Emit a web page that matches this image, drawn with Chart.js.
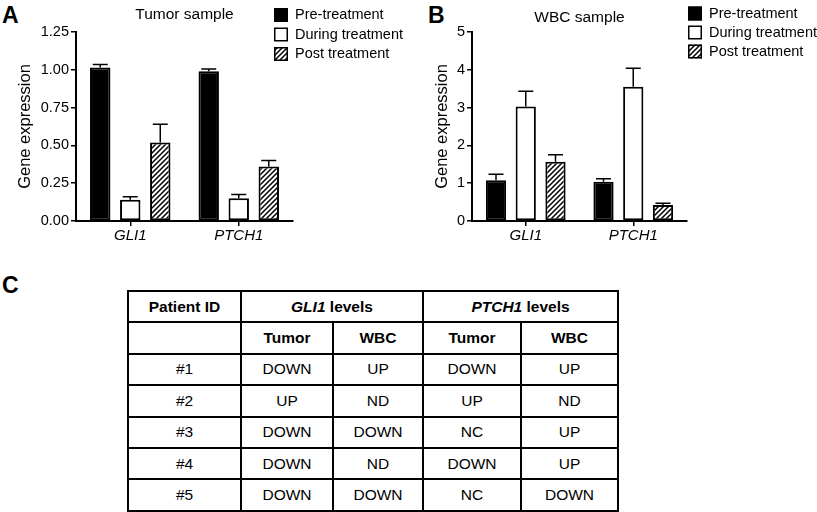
<!DOCTYPE html>
<html>
<head>
<meta charset="utf-8">
<script src="https://cdn.jsdelivr.net/npm/chart.js@4.4.1/dist/chart.umd.min.js"></script>
<style>
  html, body { margin: 0; padding: 0; background: #fff; }
  body {
    width: 817px; height: 512px; position: relative; overflow: hidden;
    font-family: "Liberation Sans", Arial, sans-serif; color: #000;
  }
  canvas { position: absolute; top: 0; }
  .letter { position: absolute; font-weight: bold; font-size: 23px; line-height: 1; }
  #tbl {
    position: absolute; left: 127px; top: 290px;
    border-collapse: collapse; font-size: 15.5px; table-layout: fixed;
  }
  #tbl td { border: 2px solid #000; text-align: center; padding: 0; }
  #tbl tr { height: 31.4px; }
  #tbl .b { font-weight: bold; }
</style>
</head>
<body>
<div class="letter" style="left:2px; top:4px">A</div>
<div class="letter" style="left:428px; top:4px">B</div>
<div class="letter" style="left:2px; top:274px">C</div>
<canvas id="tumorChart" width="410" height="250" style="left:0"></canvas>
<canvas id="wbcChart" width="412" height="250" style="left:405px"></canvas>
<table id="tbl">
  <colgroup>
    <col style="width:113px"><col style="width:92px"><col style="width:90px"><col style="width:98px"><col style="width:97px">
  </colgroup>
  <tbody id="tblBody"></tbody>
</table>
<script>
// ---- chart data ----
const CATEGORIES = ['GLI1', 'PTCH1'];
const SERIES = ['Pre-treatment', 'During treatment', 'Post treatment'];

const TUMOR_PRE = [1.015, 0.99];
const TUMOR_PRE_ERR = [0.02, 0.015];
const TUMOR_DURING = [0.14, 0.15];
const TUMOR_DURING_ERR = [0.02, 0.025];
const TUMOR_POST = [0.52, 0.36];
const TUMOR_POST_ERR = [0.12, 0.04];
const TUMOR_Y_TICKS = [0, 0.25, 0.5, 0.75, 1, 1.25];

const WBC_PRE = [1.08, 1.04];
const WBC_PRE_ERR = [0.16, 0.08];
const WBC_DURING = [3.03, 3.55];
const WBC_DURING_ERR = [0.40, 0.49];
const WBC_POST = [1.57, 0.42];
const WBC_POST_ERR = [0.18, 0.05];
const WBC_Y_TICKS = [0, 1, 2, 3, 4, 5];

// ---- table data ----
const TABLE_SUB = ['Tumor', 'WBC', 'Tumor', 'WBC'];
const PATIENTS = ['#1', '#2', '#3', '#4', '#5'];
const GLI1_TUMOR = ['DOWN', 'UP', 'DOWN', 'DOWN', 'DOWN'];
const GLI1_WBC = ['UP', 'ND', 'DOWN', 'ND', 'DOWN'];
const PTCH1_TUMOR = ['DOWN', 'UP', 'NC', 'DOWN', 'NC'];
const PTCH1_WBC = ['UP', 'ND', 'UP', 'UP', 'DOWN'];

const FONT = '"Liberation Sans", Arial, sans-serif';
Chart.defaults.font.family = FONT;
Chart.defaults.color = '#000';

function hatch() {
  const c = document.createElement('canvas');
  c.width = 5; c.height = 5;
  const g = c.getContext('2d');
  g.fillStyle = '#fff';
  g.fillRect(0, 0, 5, 5);
  g.strokeStyle = '#000';
  g.lineWidth = 1.5;
  g.beginPath();
  g.moveTo(-1, 6); g.lineTo(6, -1);
  g.moveTo(-1, 1); g.lineTo(1, -1);
  g.moveTo(4, 6); g.lineTo(6, 4);
  g.stroke();
  return g.createPattern(c, 'repeat');
}

const errorBars = {
  id: 'errorBars',
  afterDatasetsDraw(chart) {
    const { ctx } = chart;
    const y = chart.scales.y;
    ctx.save();
    ctx.strokeStyle = '#000';
    ctx.lineWidth = 1.5;
    chart.data.datasets.forEach((ds, i) => {
      chart.getDatasetMeta(i).data.forEach((bar, j) => {
        const top = y.getPixelForValue(ds.data[j] + ds.errors[j]);
        ctx.beginPath();
        ctx.moveTo(bar.x, bar.y);
        ctx.lineTo(bar.x, top);
        ctx.moveTo(bar.x - 7.5, top);
        ctx.lineTo(bar.x + 7.5, top);
        ctx.stroke();
      });
    });
    ctx.restore();
  }
};

const boxLegend = {
  id: 'boxLegend',
  afterDraw(chart, args, opts) {
    const { ctx } = chart;
    ctx.save();
    ctx.font = '14.5px ' + FONT;
    ctx.textBaseline = 'middle';
    chart.data.datasets.forEach((ds, i) => {
      const cy = opts.y + i * opts.step;
      ctx.fillStyle = ds.backgroundColor;
      ctx.fillRect(opts.x, cy - 7, 14, 14);
      ctx.strokeStyle = '#000';
      ctx.lineWidth = 1.5;
      ctx.strokeRect(opts.x + 0.75, cy - 6.25, 12.5, 12.5);
      ctx.fillStyle = '#000';
      ctx.fillText(ds.label, opts.x + 21, cy);
    });
    ctx.restore();
  }
};

function makeChart(id, title, pre, preErr, during, duringErr, post, postErr, yTicks, fmt, lay) {
  const bar = { borderColor: '#000', borderWidth: 2, borderSkipped: false,
                categoryPercentage: 0.83, barPercentage: 0.68 };
  return new Chart(document.getElementById(id), {
    type: 'bar',
    data: {
      labels: CATEGORIES,
      datasets: [
        { ...bar, label: SERIES[0], data: pre, errors: preErr, backgroundColor: '#000' },
        { ...bar, label: SERIES[1], data: during, errors: duringErr, backgroundColor: '#fff' },
        { ...bar, label: SERIES[2], data: post, errors: postErr, backgroundColor: hatch() }
      ]
    },
    options: {
      responsive: false,
      animation: false,
      layout: { padding: { left: lay.left, right: lay.right, top: 0, bottom: 4 } },
      plugins: {
        legend: { display: false },
        tooltip: { enabled: false },
        title: {
          display: true, text: title, fullSize: false, color: '#000',
          font: { size: 15.5, weight: 'normal', lineHeight: 1.2 },
          padding: { top: lay.titleTop, bottom: 32 - 18.6 - lay.titleTop }
        },
        boxLegend: { x: lay.legendX, y: lay.legendY, step: lay.legendStep }
      },
      scales: {
        x: {
          border: { color: '#000', width: 2 },
          grid: { drawOnChartArea: false, offset: false, color: '#000', lineWidth: 1.5, tickLength: 5 },
          ticks: { color: '#000', font: { size: 15, style: 'italic' }, padding: 1 },
          afterFit: s => { s.height = 25; }
        },
        y: {
          min: yTicks[0], max: yTicks[yTicks.length - 1],
          border: { color: '#000', width: 2 },
          grid: { drawOnChartArea: false, color: '#000', lineWidth: 1.5, tickLength: 5 },
          ticks: { color: '#000', font: { size: 14.5 }, padding: 2, callback: v => fmt(v) },
          title: { display: true, text: 'Gene expression', color: '#000',
                   font: { size: 16.5, lineHeight: 1.2 }, padding: { top: 3, bottom: 0 } },
          afterBuildTicks: s => { s.ticks = yTicks.map(v => ({ value: v })); },
          afterFit: s => { s.width = lay.yWidth; }
        }
      }
    },
    plugins: [errorBars, boxLegend]
  });
}

makeChart('tumorChart', 'Tumor sample',
  TUMOR_PRE, TUMOR_PRE_ERR, TUMOR_DURING, TUMOR_DURING_ERR, TUMOR_POST, TUMOR_POST_ERR,
  TUMOR_Y_TICKS, v => v.toFixed(2),
  { left: 13, right: 117, yWidth: 63, titleTop: 5.5, legendX: 274, legendY: 15, legendStep: 19.5 });

makeChart('wbcChart', 'WBC sample',
  WBC_PRE, WBC_PRE_ERR, WBC_DURING, WBC_DURING_ERR, WBC_POST, WBC_POST_ERR,
  WBC_Y_TICKS, v => String(v),
  { left: 24.5, right: 130, yWidth: 42.5, titleTop: 8, legendX: 283, legendY: 13.5, legendStep: 19 });

// ---- table ----
const body = document.getElementById('tblBody');
body.innerHTML =
  '<tr><td class="b">Patient ID</td>' +
  '<td class="b" colspan="2"><i>GLI1</i> levels</td>' +
  '<td class="b" colspan="2"><i>PTCH1</i> levels</td></tr>' +
  '<tr><td></td>' + TABLE_SUB.map(s => `<td class="b">${s}</td>`).join('') + '</tr>' +
  PATIENTS.map((p, i) =>
    `<tr><td>${p}</td><td>${GLI1_TUMOR[i]}</td><td>${GLI1_WBC[i]}</td>` +
    `<td>${PTCH1_TUMOR[i]}</td><td>${PTCH1_WBC[i]}</td></tr>`).join('');
</script>
</body>
</html>
